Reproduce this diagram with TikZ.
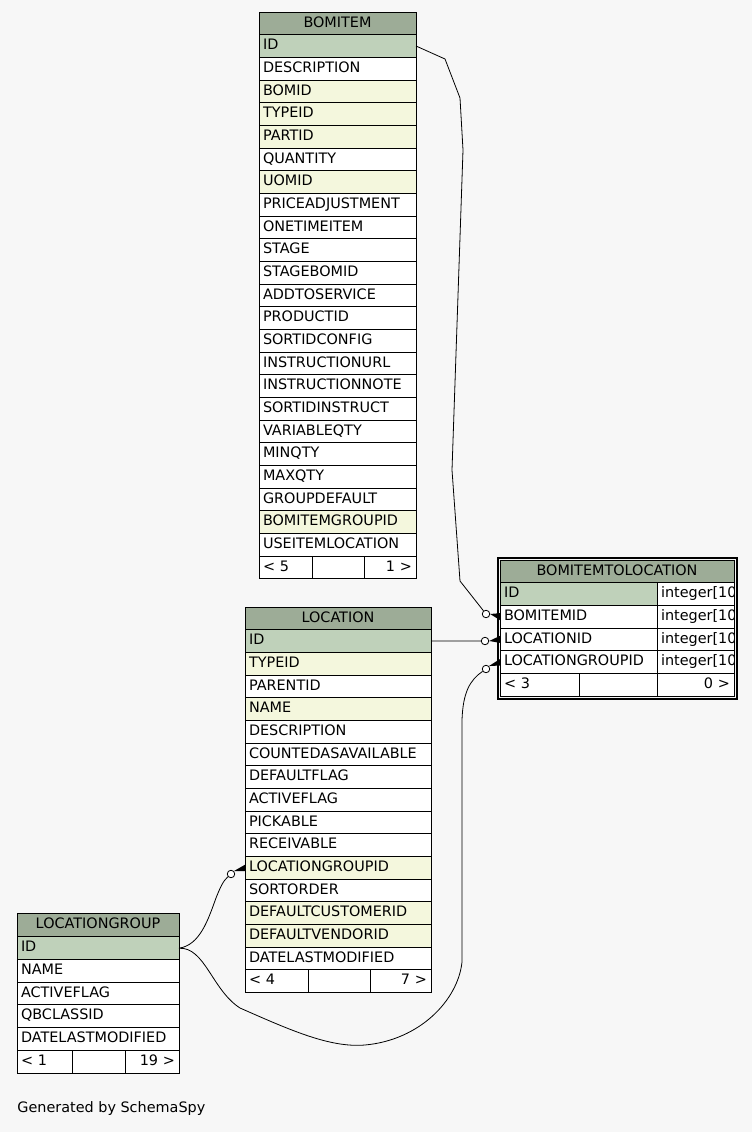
\documentclass[tikz,border=0pt]{standalone}
\usepackage{fontspec}
\setmainfont{DejaVu Sans}
\usetikzlibrary{positioning}
\definecolor{SchemaHead}{HTML}{9DAC97}
\definecolor{SchemaKey}{HTML}{BFD1BA}
\definecolor{SchemaIndex}{HTML}{F4F7DD}
\definecolor{SchemaBack}{HTML}{F7F7F7}

\begin{document}
\begin{tikzpicture}[x=1pt,y=-1pt,line width=0.8pt,font=\fontsize{14.4}{17}\selectfont,
  cell/.style={draw,fill=white,anchor=north west,inner xsep=4pt,inner ysep=0pt,outer sep=0pt,minimum height=22.67pt,align=left,text height=10.5pt,text depth=3pt},
  headcell/.style={cell,fill=SchemaHead,align=center},
  endcell/.style={cell,align=right},
  zero/.style={circle,draw,fill=white,minimum size=7.5pt,inner sep=0pt}]
\fill[SchemaBack] (0,0) rectangle (752,1132);
\useasboundingbox (0,0) rectangle (752,1132);
% BOMITEM
\node[headcell,text width=149pt] (bi0) at (259,12) {BOMITEM};
\foreach \c/\f [count=\i] in {ID/SchemaKey,DESCRIPTION/white,BOMID/SchemaIndex,TYPEID/SchemaIndex,PARTID/SchemaIndex,QUANTITY/white,UOMID/SchemaIndex,PRICEADJUSTMENT/white,ONETIMEITEM/white,STAGE/white,STAGEBOMID/white,ADDTOSERVICE/white,PRODUCTID/white,SORTIDCONFIG/white,INSTRUCTIONURL/white,INSTRUCTIONNOTE/white,SORTIDINSTRUCT/white,VARIABLEQTY/white,MINQTY/white,MAXQTY/white,GROUPDEFAULT/white,BOMITEMGROUPID/SchemaIndex,USEITEMLOCATION/white} {
   \node[cell,text width=149pt,fill=\f] (bi\i) at (259,{12+\i*22.67}) {\c};
}
\node[cell,text width=45pt] (bifa) at (259,{12+24*22.67}) {< 5};
\node[cell,text width=44pt] (bifb) at (bifa.north east) {};
\node[endcell,text width=44pt] (bifc) at (bifb.north east) {1 >};
% LOCATION
\node[headcell,text width=178pt] (lo0) at (245,607) {LOCATION};
\foreach \c/\f [count=\i] in {ID/SchemaKey,TYPEID/SchemaIndex,PARENTID/white,NAME/SchemaIndex,DESCRIPTION/white,COUNTEDASAVAILABLE/white,DEFAULTFLAG/white,ACTIVEFLAG/white,PICKABLE/white,RECEIVABLE/white,LOCATIONGROUPID/SchemaIndex,SORTORDER/white,DEFAULTCUSTOMERID/SchemaIndex,DEFAULTVENDORID/SchemaIndex,DATELASTMODIFIED/white} {
   \node[cell,text width=178pt,fill=\f] (lo\i) at (245,{607+\i*22.67}) {\c};
}
\node[cell,text width=55pt] (lofa) at (245,{607+16*22.67}) {< 4};
\node[cell,text width=54pt] (lofb) at (lofa.north east) {};
\node[endcell,text width=53pt] (lofc) at (lofb.north east) {7 >};
% LOCATIONGROUP
\node[headcell,text width=154pt,minimum height=23.6pt] (lg0) at (17,913.3) {LOCATIONGROUP};
\foreach \c/\f [count=\i] in {ID/SchemaKey,NAME/white,ACTIVEFLAG/white,QBCLASSID/white,DATELASTMODIFIED/white} {
   \node[cell,text width=154pt,fill=\f] (lg\i) at (17,{914.2+\i*22.67}) {\c};
}
\node[cell,text width=47pt] (lgfa) at (17,{914.2+6*22.67}) {< 1};
\node[cell,text width=45pt] (lgfb) at (lgfa.north east) {};
\node[endcell,text width=46pt] (lgfc) at (lgfb.north east) {19 >};
% BOMITEMTOLOCATION
\node[headcell,text width=226pt] (bl0) at (500,560) {BOMITEMTOLOCATION};
\foreach \c/\f [count=\i] in {ID/SchemaKey,BOMITEMID/white,LOCATIONID/white,LOCATIONGROUPID/white} {
   \node[cell,text width=149pt,fill=\f] (bl\i) at (500,{560+\i*22.67}) {\c};
}
\begin{scope}
\clip (657,582) rectangle (734,675);
\foreach \i in {1,...,4} {
   \node[cell,text width=73pt] (bt\i) at (657,{560+\i*22.67}) {integer[10]};
}
\end{scope}
\node[cell,text width=71pt] (blfa) at (500,{560+5*22.67}) {< 3};
\node[cell,text width=70pt] (blfb) at (blfa.north east) {};
\node[endcell,text width=69pt] (blfc) at (blfb.north east) {0 >};
\draw (bl0.north west) rectangle (734,{560+6*22.67});
\draw[line width=2pt] (497.5,557.5) rectangle (736.5,698.5);
% relations
\node[zero] (z1) at (486,614) {};
\node[zero] (z2) at (485,641) {};
\node[zero] (z3) at (486,669) {};
\node[zero] (z4) at (231,874) {};
\draw (bi1.east) -- (445,59) -- (460,98) -- (463,150) -- (452,470) -- (460,581) -- (z1);
\draw (lo1.east) -- (z2);
\draw (lg1.east) .. controls (205,947) and (212,990) .. (240,1008)
   .. controls (290,1030) and (330,1048) .. (365,1045)
   .. controls (420,1040) and (458,1000) .. (462,962)
   -- (462,720) .. controls (463,692) and (470,680) .. (z3);
\draw (lg1.east) .. controls (200,945) and (208,920) .. (216,898)
   .. controls (220,888) and (223,881) .. (z4);
\fill (z1.east) -- ([yshift=-3.5pt]bl2.west) -- ([yshift=3.5pt]bl2.west) -- cycle;
\fill (z2.east) -- ([yshift=-3.5pt]bl3.west) -- ([yshift=3.5pt]bl3.west) -- cycle;
\fill (z3.north east) -- ([yshift=-3.5pt]bl4.west) -- ([yshift=3pt]bl4.west) -- cycle;
\fill (z4.north east) -- ([yshift=-3.5pt]lo11.west) -- ([yshift=3pt]lo11.west) -- cycle;
\node[anchor=west,inner sep=0pt] (gen) at (17,1109) {Generated by SchemaSpy};
\end{tikzpicture}
\end{document}
